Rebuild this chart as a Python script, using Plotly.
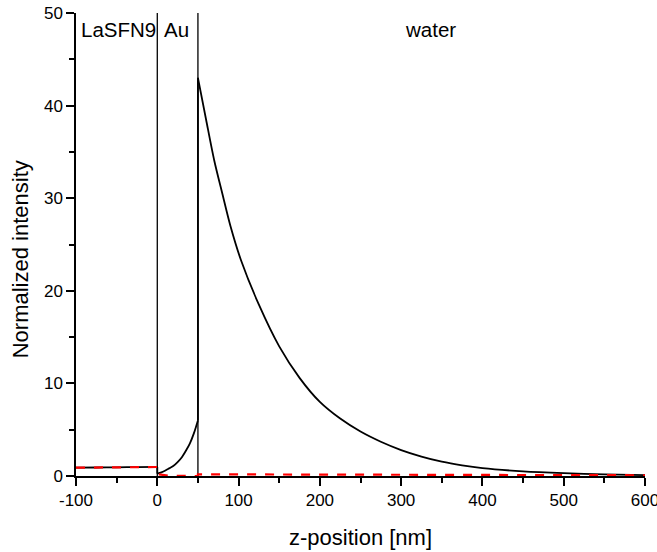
import plotly.graph_objects as go

# --- data ---
# black solid: total intensity
z_glass = [-100, -75, -50, -25, 0]
I_glass = [0.90, 0.92, 0.94, 0.96, 0.98]
z_au = [0, 5, 10, 15, 20, 25, 30, 35, 40, 45, 50]
I_au = [0.25, 0.40, 0.60, 0.85, 1.10, 1.50, 2.00, 2.70, 3.50, 4.60, 6.00]
z_water = [50, 60, 70, 80, 90, 103, 125, 150, 175, 200, 225, 250, 275, 300, 325, 350, 375,
           400, 450, 500, 550, 600]
I_water = [43.0, 38.5, 34.1, 30.5, 27.0, 23.3, 18.5, 14.0, 10.6, 8.0, 6.2, 4.8, 3.7, 2.8, 2.1,
           1.55, 1.15, 0.85, 0.50, 0.30, 0.17, 0.10]

# red dashed: reference intensity
z_red = [-100, -50, 0, 0, 5, 10, 15, 20, 30, 40, 50, 50, 100, 200, 300, 400, 500, 600]
I_red = [0.90, 0.94, 0.97, 0.20, 0.12, 0.05, 0.02, 0.01, 0.0, 0.0, 0.0, 0.18, 0.17, 0.15, 0.13, 0.11, 0.09, 0.08]

layer_boundaries = [0, 50]
layer_labels = ["LaSFN9", "Au", "water"]
layer_label_x = [-96, 6, 302]

x_ticks = [-100, 0, 100, 200, 300, 400, 500, 600]
x_ticktext = ["-100", "0", "100", "200", "300", "400", "500", "600"]
y_ticks = [0, 10, 20, 30, 40, 50]

FONT = "Liberation Sans, Arial, sans-serif"
BLACK = "black"

fig = go.Figure()
for b in layer_boundaries:
    fig.add_trace(go.Scatter(x=[b, b], y=[0, 50], mode="lines",
                             line=dict(color=BLACK, width=1.3), hoverinfo="skip"))
for zs, Is in [(z_glass, I_glass), (z_au, I_au), (z_water, I_water)]:
    fig.add_trace(go.Scatter(x=zs, y=Is, mode="lines",
                             line=dict(color=BLACK, width=1.8, shape="spline", smoothing=0.8)))
# connecting jumps at interfaces
fig.add_trace(go.Scatter(x=[z_glass[-1], z_au[0]], y=[I_glass[-1], I_au[0]], mode="lines",
                         line=dict(color=BLACK, width=1.8)))
fig.add_trace(go.Scatter(x=[z_au[-1], z_water[0]], y=[I_au[-1], I_water[0]], mode="lines",
                         line=dict(color=BLACK, width=1.8)))
fig.add_trace(go.Scatter(x=z_red, y=I_red, mode="lines",
                         line=dict(color="#ff0000", width=2.2, dash="dash")))

for lab, lx in zip(layer_labels, layer_label_x):
    fig.add_annotation(x=lx, y=48.2, text=lab, showarrow=False, xanchor="left",
                       yanchor="middle", font=dict(family=FONT, size=20.5, color=BLACK))

# y-axis title (placed as in the reference, slightly below the axis centre)
fig.add_annotation(xref="paper", x=0, xshift=-56, y=23.4, text="Normalized intensity",
                   textangle=-90, showarrow=False, xanchor="center", yanchor="middle",
                   font=dict(family=FONT, size=22, color=BLACK))

fig.update_layout(
    width=657, height=552,
    margin=dict(l=76, r=12, t=13, b=76),
    paper_bgcolor="white", plot_bgcolor="white",
    showlegend=False,
    font=dict(family=FONT, color=BLACK),
)
fig.update_xaxes(range=[-100, 600], tickvals=x_ticks, ticktext=x_ticktext,
                 automargin=False, ticklabeloverflow="allow",
                 showgrid=False, zeroline=False, showline=True, linecolor=BLACK, linewidth=1.5,
                 ticks="outside", ticklen=8, tickwidth=1.5, tickcolor=BLACK,
                 tickfont=dict(family=FONT, size=17),
                 minor=dict(ticks="outside", ticklen=5, tickwidth=1.5, tickcolor=BLACK, dtick=50, tick0=0),
                 title=dict(text="z-position [nm]", font=dict(family=FONT, size=22), standoff=20))
fig.update_yaxes(range=[0, 50], tickvals=y_ticks,
                 automargin=False, ticklabeloverflow="allow",
                 showgrid=False, zeroline=False, showline=True, linecolor=BLACK, linewidth=1.5,
                 ticks="outside", ticklen=8, tickwidth=1.5, tickcolor=BLACK,
                 tickfont=dict(family=FONT, size=17),
                 minor=dict(ticks="outside", ticklen=5, tickwidth=1.5, tickcolor=BLACK, dtick=5, tick0=0))

fig.write_html("out.html")
